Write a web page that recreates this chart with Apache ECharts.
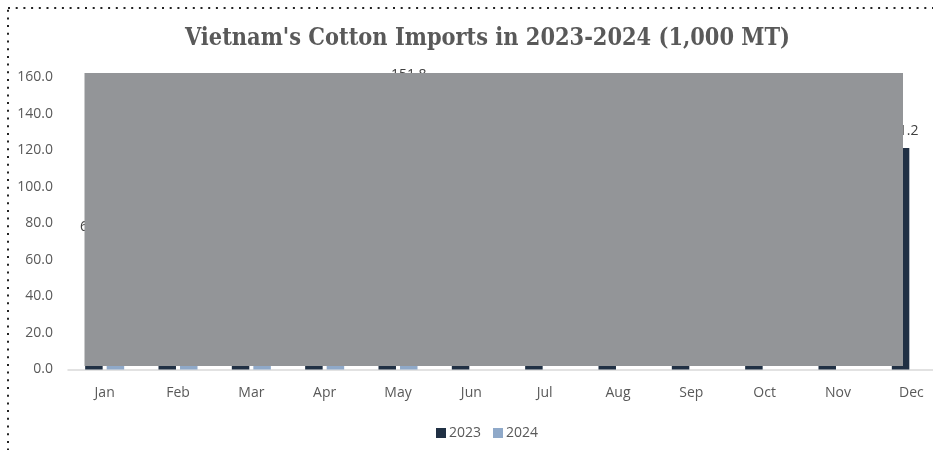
<!DOCTYPE html>
<html>
<head>
<meta charset="utf-8">
<script src="https://cdn.jsdelivr.net/npm/echarts@6/dist/echarts.min.js"></script>
<style>html,body{margin:0;padding:0;background:#fff;overflow:hidden;}#c{width:960px;height:450px;}</style>
</head>
<body>
<div id="c"></div>
<script>
const categories = ['Jan','Feb','Mar','Apr','May','Jun','Jul','Aug','Sep','Oct','Nov','Dec'];
const imports2023 = [68.8, 112.0, 135.0, 125.0, 130.0, 115.0, 110.0, 120.0, 116.0, 125.0, 126.0, 121.2];
const imports2024 = [140.0, 105.0, 138.0, 145.0, 151.8];
const yTicks = { min: 0, max: 160, interval: 20 };
const titleText = "Vietnam's Cotton Imports in 2023-2024 (1,000 MT)";

const chart = echarts.init(document.getElementById('c'));
const labelStyle = { show: true, position: 'top', distance: 10, fontFamily: 'Open Sans', fontSize: 14, color: '#404040', formatter: p => p.value.toFixed(1) };
chart.setOption({
  animation: false,
  backgroundColor: '#fff',
  title: { text: titleText, left: 180, top: 22, textStyle: { fontFamily: 'DejaVu Serif Condensed', fontWeight: 'bold', fontSize: 23.3, color: '#595959' } },
  legend: { left: 431, top: 421, itemWidth: 10, itemHeight: 10, itemGap: 12, icon: 'rect',
    textStyle: { fontFamily: 'Open Sans', fontSize: 14, color: '#595959', padding: [0,0,0,-2] } },
  grid: { left: 68, top: 77, width: 880, height: 292.5, containLabel: false },
  xAxis: { type: 'category', data: categories,
    axisLine: { lineStyle: { color: '#d9d9d9', width: 1.5 } }, axisTick: { show: false },
    axisLabel: { fontFamily: 'Open Sans', fontSize: 14, color: '#595959', margin: 17 } },
  yAxis: { type: 'value', min: yTicks.min, max: yTicks.max, interval: yTicks.interval,
    splitLine: { show: false }, axisLine: { show: false }, axisTick: { show: false },
    axisLabel: { fontFamily: 'Open Sans', fontSize: 14, color: '#595959', margin: 15, formatter: v => v.toFixed(1) } },
  series: [
    { name: '2023', type: 'bar', data: imports2023, barWidth: 17.5, barGap: '23%', itemStyle: { color: '#203044' }, label: labelStyle },
    { name: '2024', type: 'bar', data: imports2024, barWidth: 17.5, itemStyle: { color: '#8FA9C9' }, label: labelStyle }
  ],
  graphic: [
    { type: 'rect', z: 100, silent: true, shape: { x: 84.5, y: 73, width: 818.5, height: 293 }, style: { fill: '#939598' } },
    { type: 'rect', z: 100, silent: true, shape: { x: 8, y: 8, width: 1000, height: 1000 }, style: { fill: 'none', stroke: '#222', lineWidth: 2, lineDash: [2, 5.7] } }
  ]
});
</script>
</body>
</html>
